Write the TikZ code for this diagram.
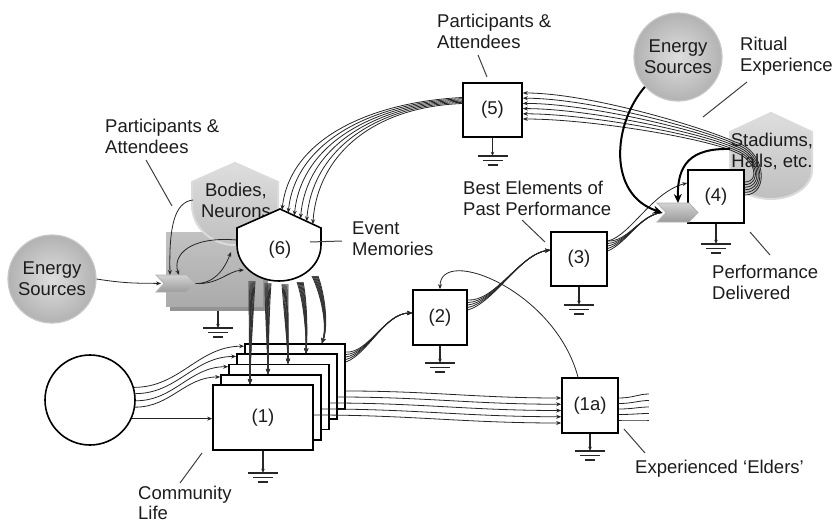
\documentclass[tikz,border=0pt]{standalone}
\usepackage{fontspec}
\setmainfont{Liberation Sans}
\usetikzlibrary{arrows.meta,calc}
\definecolor{ink}{HTML}{1C1C1C}
\begin{document}
\begin{tikzpicture}[x=1pt,y=-1pt,
  txt/.style={font=\fontsize{18.5}{21}\selectfont,text=ink,inner sep=0pt},
  lbl/.style={txt,align=left,anchor=west},
  box/.style={draw=black,line width=1.6pt,fill=white,inner sep=0pt,txt},
  wire/.style={line width=0.8pt,draw=black!85},
  tip/.style={-{Stealth[length=5pt,width=4pt]}},
  bigtip/.style={-{Stealth[length=9pt,width=8pt]}},
  heavy/.style={line width=2pt,draw=black},
  pointer/.style={line width=1pt,draw=black!75},
  gwire/.style={line width=1.1pt,draw=black!85,-{Stealth[length=4pt,width=3.5pt]}},
  earth/.pic={\draw[line width=1.4pt,black!85] (-15,0)--(15,0) (-10,4.5)--(10,4.5) (-5,9)--(5,9);},
  sphere/.style={circle,txt,align=center,minimum size=88pt,inner color=gray!26,outer color=gray!60,draw=gray!45,line width=1.2pt},
  chev/.style={top color=gray!35,bottom color=gray!78,draw=gray!60,line width=0.8pt},
  hexa/.style={top color=gray!26,bottom color=gray!50,draw=gray!28,line width=2pt},
]
\useasboundingbox (0,0) rectangle (834,524);

% ---- shaded block with Bodies / Neurons ----
\fill[gray!85] (170,236) rectangle (268,311);
\fill[top color=gray!48,bottom color=gray!66] (166,232) rectangle (263,306);
\coordinate (blockS) at (218,311);
\draw[gwire] (blockS) -- ++(0,17) coordinate (g0);
\pic at (g0) {earth};

\shadedraw[hexa] (192,182) -- (235,163) -- (278,182) -- (278,205)
  arc[start angle=0,end angle=180,x radius=43,y radius=40] -- cycle;
\node[txt,align=center] (bodies) at (236,200) {Bodies,\\Neurons};

\node[sphere] (el) at (52,279) {Energy\\Sources};

\coordinate (chA) at (161,283.5);
\coordinate (chB) at (195,283.5);
\coordinate (chT1) at (170,275);
\coordinate (chT2) at (179,275);
\coordinate (bodiesW) at (193,200);
\coordinate (bodiesS) at (231,252);
\coordinate (sixW) at (237,240);
\coordinate (sixSW) at (244,270);

\draw[wire,tip] (el.east) .. controls (128,284) and (140,283) .. (chA);
\draw[wire,tip] (bodiesW) .. controls (174,202) and (169,228) .. (chT1);
\draw[wire,tip] (sixW) .. controls (190,236) and (172,255) .. (chT2);
\draw[wire,tip] (chB) .. controls (214,284) and (224,270) .. (bodiesS);
\draw[wire,tip] (chB) .. controls (218,285) and (228,271) .. (sixSW);

\shadedraw[chev] (156,275) -- (187,275) -- (195,283.5) -- (187,292) -- (156,292) -- (164,283.5) -- cycle;

% ---- event memories (6) ----
\draw[line width=1.6pt,fill=white] (237,228) -- (280,209) -- (321,228) -- (321,245)
  arc[start angle=0,end angle=180,x radius=42,y radius=36] -- cycle;
\node[txt] (six) at (280,250) {(6)};
\coordinate (sixA) at (280,209);
\coordinate (sixB) at (321,228);

% ---- boxes ----
\node[box,minimum width=59pt,minimum height=54pt] (n5) at (492.5,110) {(5)};
\node[box,minimum width=54pt,minimum height=55pt] (n2) at (440,317.5) {(2)};
\node[box,minimum width=56pt,minimum height=54pt] (n3) at (579,259) {(3)};
\node[box,minimum width=56pt,minimum height=55pt] (n1a) at (590,405.5) {(1a)};

% (5) to (6)
\foreach \j in {0,...,5}
  \draw[wire,tip] ($(n5.west)+(0,-12.5+1.2*\j)$) .. controls (372,102+\j) and (290+5.5*\j,138+3.5*\j)
    .. ($(sixA)!{0.05+0.15*\j}!(sixB)$);

% community stack
\node[draw,line width=1.6pt,circle,minimum size=90pt,inner sep=0pt] (c0) at (90,400) {};
\node[box,minimum width=100pt,minimum height=65pt] (s4) at (295,376.5) {};
\node[box,minimum width=100pt,minimum height=65pt] (s3) at (287,386.75) {};
\node[box,minimum width=100pt,minimum height=65pt] (s2) at (279,397) {};
\node[box,minimum width=100pt,minimum height=65pt] (s1) at (271,407.25) {};
\node[box,minimum width=100pt,minimum height=65pt] (n1) at (263,417.5) {(1)};

\draw[wire,tip] (c0.16) to[out=0,in=180] ($(s4.north west)+(0,3)$);
\draw[wire,tip] (c0.8) to[out=0,in=180] ($(s3.north west)+(0,3)$);
\draw[wire,tip] (c0.-1) to[out=0,in=180] ($(s2.north west)+(0,3)$);
\draw[wire,tip] (c0.-9) to[out=0,in=180] ($(s1.north west)+(0,3)$);
\draw[wire,tip] (c0.-24) -- (c0.-24 -| n1.west);

% (6) down to the stack: dense bundles
\foreach \nd/\ox/\sx/\sy/\ax/\ay/\bx/\by in {
  n1/-13/252/281/251/320/250/350,
  s1/-3/268/283/267/315/268/345,
  s2/9/285/284/286/315/288/340,
  s3/19/300/282/305/300/307/330,
  s4/27/315/276/323/295/328/325}
{
  \foreach \d in {-3,-2,-1,0,1,2,3}
    \draw[line width=0.9pt,draw=black!80,tip] (\sx+\d,\sy) .. controls (\ax+0.6*\d,\ay) and (\bx+0.2*\d,\by)
      .. ($(\nd.north)+(\ox,0)$);
}

% stack to (1a)
\foreach \nd/\k in {n1/0,s1/1,s2/2,s3/3,s4/4}
  \draw[wire,tip] ($(\nd.east)+(0,-2.5+4.25*\k)$) to[out=0,in=180] ($(n1a.west)+(0,{-7.5+(4-\k)*6.25})$);
\foreach \k in {0,...,4}
  \draw[wire] ($(n1a.east)+(0,-7.5+5.5*\k)$) .. controls +(14,0) and +(-10,0) .. ($(n1a.east)+(30,{-11.5+6.5*\k})$);

% stack to (2), (2) to (3)
\foreach \j in {0,...,4}
  \draw[wire,tip] ($(s4.east)+(0,-24.5+2.5*\j)$) .. controls (368,354) and (385,313) .. ($(n2.west)+(0,-4.5)$);
\foreach \j in {0,...,4}
  \draw[wire,tip] ($(n2.east)+(0,-17.5+2.5*\j)$) .. controls (495,302) and (520,254) .. ($(n3.west)+(0,-9)$);

% (1a) back to (2)
\draw[wire,tip] ($(n1a.north)+(-12,0)$) .. controls (555,290) and (440,245) .. (n2.north);

% ---- stadiums, (4) and the ritual energy ----
\shadedraw[hexa] (730,132) -- (771,113) -- (812,132) -- (812,170)
  arc[start angle=0,end angle=180,x radius=41,y radius=29] -- cycle;
\node[txt,align=center] (stad) at (772,151) {Stadiums,\\Halls, etc.};
\node[sphere] (er) at (678,57) {Energy\\Sources};
\node[box,minimum width=56pt,minimum height=53pt] (n4) at (716,196.5) {(4)};

% (4) looping back to (5)
\foreach \k in {0,...,5}
  \draw[wire,tip] ($(n4.east)+(0,-1.5-2.6*\k)$) .. controls (770-2*\k,195-2.6*\k) and (766-2*\k,150+2*\k)
    .. (735,142+2*\k) .. controls (705,128+2*\k) and (590,93+5.2*\k) .. ($(n5.east)+(0,-17+5.2*\k)$);

% (3) to (4)
\coordinate (chC) at (662,212.5);
\coordinate (chCt) at (678,203);
\coordinate (stadW) at (730,149);
\foreach \j in {0,...,4}
  \draw[wire] ($(n3.east)+(0,-18+2.5*\j)$) .. controls (628,242) and (640,215) .. (chC);
\draw[wire,tip] ($(n3.east)+(0,-18)$) .. controls (630,236) and (652,192) .. ($(n4.west)+(0,-13.5)$);

\shadedraw[chev] (657,203) -- (689,203) -- (698,212.5) -- (689,222) -- (657,222) -- (666,212.5) -- cycle;
\draw[heavy,bigtip] (er.222) .. controls (612,125) and (608,195) .. (chC);
\draw[heavy,bigtip] (stadW) .. controls (690,148) and (677,165) .. (chCt);

% ---- grounds ----
\draw[gwire] (n1.south) -- ++(0,22) coordinate (g1);  \pic at (g1) {earth};
\draw[gwire] (n1a.south) -- ++(0,17) coordinate (g2); \pic at (g2) {earth};
\draw[gwire] (n2.south) -- ++(0,17) coordinate (g3);  \pic at (g3) {earth};
\draw[gwire] (n3.south) -- ++(0,18) coordinate (g4);  \pic at (g4) {earth};
\draw[gwire] (n4.south) -- ++(0,20) coordinate (g5);  \pic at (g5) {earth};
\draw[gwire] (n5.south) -- ++(0,18) coordinate (g6);  \pic at (g6) {earth};

% ---- labels ----
\node[lbl] (lpa1) at (105,136) {Participants \&\\Attendees};
\node[lbl] (lpa2) at (437,31) {Participants \&\\Attendees};
\node[lbl] (lrit) at (740,56) {Ritual\\Experience};
\node[lbl] (lbest) at (463,198) {Best Elements of\\Past Performance};
\node[lbl] (lev) at (352,239) {Event\\Memories};
\node[lbl] (lperf) at (712,282) {Performance\\Delivered};
\node[lbl] (lold) at (635,469) {Experienced ‘Elders’};
\node[lbl,font=\fontsize{18.5}{20}\selectfont] (lcom) at (138,503) {Community\\Life};

\draw[pointer] (146,160) -- (172,206);
\draw[pointer] (478,55) -- (487,77);
\draw[pointer] (747,82) -- (703,117);
\draw[pointer] (522,220) -- (545,242);
\draw[pointer] (310,242) -- (342,241);
\draw[pointer] (750,232) -- (770,255);
\draw[pointer] (624,429) -- (645,453);
\draw[pointer] (180,483) -- (202,453);
\end{tikzpicture}
\end{document}
